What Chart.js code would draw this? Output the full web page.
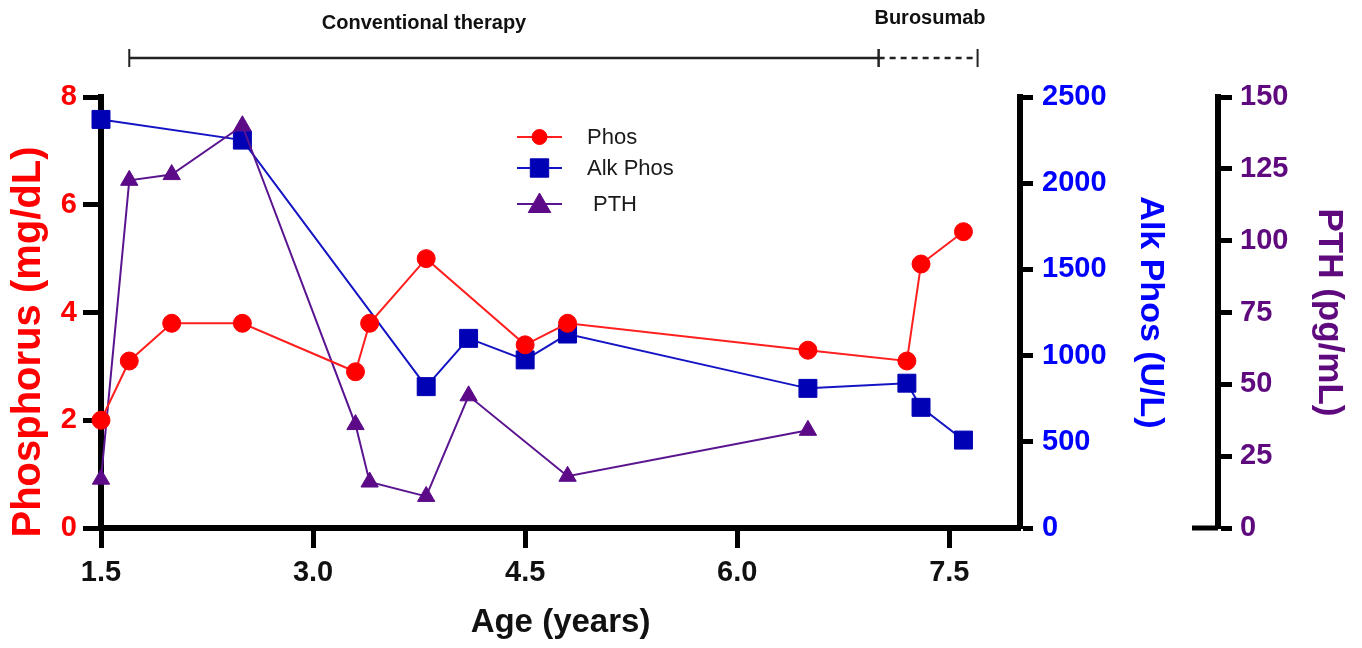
<!DOCTYPE html>
<html>
<head>
<meta charset="utf-8">
<title>Phos / Alk Phos / PTH by age</title>
<script src="https://cdn.jsdelivr.net/npm/chart.js@4.4.1/dist/chart.umd.min.js"></script>
<style>
  html, body { margin: 0; padding: 0; background: #fff; }
  #wrap { width: 1362px; height: 648px; }
</style>
</head>
<body>
<div id="wrap"><canvas id="chart" width="1362" height="648"></canvas></div>
<script>
// values
var phosAge = [1.5, 1.7, 2.0, 2.5, 3.3, 3.4, 3.8, 4.5, 4.8, 6.5, 7.2, 7.3, 7.6];
var phosValues = [2.0, 3.1, 3.8, 3.8, 2.9, 3.8, 5.0, 3.4, 3.8, 3.3, 3.1, 4.9, 5.5];

var alkAge = [1.5, 2.5, 3.8, 4.1, 4.5, 4.8, 6.5, 7.2, 7.3, 7.6];
var alkValues = [2370, 2250, 820, 1100, 975, 1125, 810, 840, 700, 510];

var pthAge = [1.5, 1.7, 2.0, 2.5, 3.3, 3.4, 3.8, 4.1, 4.8, 6.5];
var pthValues = [17, 121, 123, 140, 36, 16, 11, 46, 18, 34];

var ageTicks = [1.5, 3.0, 4.5, 6.0, 7.5];
var phosTicks = [0, 2, 4, 6, 8];
var alkTicks = [0, 500, 1000, 1500, 2000, 2500];
var pthTicks = [0, 25, 50, 75, 100, 125, 150];

// treatment periods shown above the plot
var periodNames = ['Conventional therapy', 'Burosumab'];
var periodStart = [1.7, 7.0];
var periodEnd = [7.0, 7.7];

var FONT = '"Liberation Sans", Arial, Helvetica, sans-serif';
var RED = '#ff0000';
var BLUE = '#0000ff';
var PURPLE = '#5e0a7e';

Chart.defaults.font.family = FONT;

function points(xs, ys) {
    return xs.map(function(x, i) { return {x: x, y: ys[i]}; });
}

function fixedTicks(list) {
    return function(scale) {
        scale.ticks = list.map(function(v) { return {value: v}; });
    };
}

function fixedWidth(w) {
    return function(scale) { scale.width = w; };
}

function plain(v) {
    return String(v);
}

// draws a marker the same way the datasets do
function marker(ctx, style, radius, x, y) {
    if (Chart.helpers && Chart.helpers.drawPoint) {
        Chart.helpers.drawPoint(ctx, {pointStyle: style, radius: radius, rotation: 0, borderWidth: 1}, x, y);
        return;
    }
    ctx.beginPath();
    ctx.arc(x, y, radius, 0, Math.PI * 2);
    ctx.fill();
}

var extras = {
    id: 'extras',
    afterDraw: function(chart) {
        var ctx = chart.ctx;
        var xs = chart.scales.x;
        var pth = chart.scales.y2;

        ctx.save();

        // left axis title (sits a bit below the middle in the original)
        ctx.save();
        ctx.translate(29, 342);
        ctx.rotate(-Math.PI / 2);
        ctx.fillStyle = RED;
        ctx.font = 'bold 40px ' + FONT;
        ctx.textAlign = 'center';
        ctx.textBaseline = 'middle';
        ctx.fillText('Phosphorus (mg/dL)', 0, 0);
        ctx.restore();

        // short base stub on the PTH axis
        var y0 = pth.getPixelForValue(0);
        ctx.strokeStyle = '#000';
        ctx.lineWidth = 5;
        ctx.beginPath();
        ctx.moveTo(pth.left - 26, y0);
        ctx.lineTo(pth.left, y0);
        ctx.stroke();

        // treatment period bars
        var barY = 58;
        ctx.strokeStyle = '#222';
        ctx.fillStyle = '#111';
        ctx.font = 'bold 20px ' + FONT;
        ctx.textAlign = 'center';
        ctx.textBaseline = 'middle';
        var labelX = [424, 930];
        var labelY = [23, 18];
        for (var i = 0; i < periodNames.length; i++) {
            var a = xs.getPixelForValue(periodStart[i]);
            var b = xs.getPixelForValue(periodEnd[i]);
            ctx.lineWidth = 2.5;
            ctx.setLineDash(i === 0 ? [] : [6, 5]);
            ctx.beginPath();
            ctx.moveTo(a, barY);
            ctx.lineTo(b, barY);
            ctx.stroke();
            ctx.setLineDash([]);
            ctx.lineWidth = 2;
            ctx.beginPath();
            ctx.moveTo(a, barY - 9);
            ctx.lineTo(a, barY + 9);
            ctx.moveTo(b, barY - 9);
            ctx.lineTo(b, barY + 9);
            ctx.stroke();
            ctx.fillText(periodNames[i], labelX[i], labelY[i]);
        }

        // legend inside the plot
        var legendRows = [137, 168, 204];
        var legendRadius = [7.5, 13, 13];
        chart.data.datasets.forEach(function(ds, k) {
            var y = legendRows[k];
            ctx.strokeStyle = ds.borderColor;
            ctx.lineWidth = 2;
            ctx.beginPath();
            ctx.moveTo(517, y);
            ctx.lineTo(562, y);
            ctx.stroke();
            ctx.fillStyle = ds.pointBackgroundColor;
            ctx.strokeStyle = ds.pointBackgroundColor;
            ctx.lineWidth = 1;
            marker(ctx, ds.pointStyle, legendRadius[k], 539.5, ds.pointStyle === 'triangle' ? y + 2 : y);
            ctx.fillStyle = '#1a1a1a';
            ctx.font = '22px ' + FONT;
            ctx.textAlign = 'left';
            ctx.textBaseline = 'middle';
            ctx.fillText(ds.label, k === 2 ? 593 : 587, y + 1);
        });

        ctx.restore();
    }
};

function axisGrid(len) {
    return {
        display: true,
        drawOnChartArea: false,
        drawTicks: true,
        tickLength: len,
        tickWidth: 5,
        tickColor: '#000'
    };
}

var border = {display: true, color: '#000', width: 6};

new Chart(document.getElementById('chart').getContext('2d'), {
    type: 'scatter',
    data: {
        datasets: [{
            label: 'Phos',
            data: points(phosAge, phosValues),
            yAxisID: 'y',
            showLine: true,
            borderColor: '#ff1f1f',
            borderWidth: 2,
            pointStyle: 'circle',
            pointRadius: 9,
            pointBackgroundColor: RED,
            pointBorderColor: RED,
            pointBorderWidth: 1,
            clip: false,
            order: 1
        }, {
            label: 'Alk Phos',
            data: points(alkAge, alkValues),
            yAxisID: 'y1',
            showLine: true,
            borderColor: '#1414c4',
            borderWidth: 2,
            pointStyle: 'rect',
            pointRadius: 12.7,
            pointBackgroundColor: '#0000b4',
            pointBorderColor: '#0000b4',
            pointBorderWidth: 1,
            clip: false,
            order: 3
        }, {
            label: 'PTH',
            data: points(pthAge, pthValues),
            yAxisID: 'y2',
            showLine: true,
            borderColor: '#5a1490',
            borderWidth: 2,
            pointStyle: 'triangle',
            pointRadius: 10,
            pointBackgroundColor: '#5c0a88',
            pointBorderColor: '#5c0a88',
            pointBorderWidth: 1,
            clip: false,
            order: 2
        }]
    },
    options: {
        responsive: false,
        animation: false,
        events: [],
        layout: {padding: {top: 97, right: 0, bottom: 0, left: 0}},
        plugins: {
            legend: {display: false},
            tooltip: {enabled: false},
            title: {display: false}
        },
        scales: {
            x: {
                type: 'linear',
                position: 'bottom',
                min: 1.5,
                max: 8,
                afterBuildTicks: fixedTicks(ageTicks),
                afterFit: function(scale) { scale.height = 120; },
                border: border,
                grid: axisGrid(20),
                ticks: {
                    color: '#111',
                    padding: 8,
                    font: {size: 29, weight: 'bold'},
                    callback: function(v) { return Number(v).toFixed(1); }
                },
                title: {
                    display: true,
                    text: 'Age (years)',
                    color: '#111',
                    font: {size: 33, weight: 'bold'},
                    padding: {top: 0, bottom: 5}
                }
            },
            y: {
                type: 'linear',
                position: 'left',
                min: 0,
                max: 8,
                afterBuildTicks: fixedTicks(phosTicks),
                afterFit: fixedWidth(101),
                border: border,
                grid: axisGrid(18),
                ticks: {color: RED, padding: 6, font: {size: 29, weight: 'bold'}, callback: plain}
            },
            y1: {
                type: 'linear',
                position: 'right',
                min: 0,
                max: 2500,
                afterBuildTicks: fixedTicks(alkTicks),
                afterFit: fixedWidth(198),
                border: border,
                grid: axisGrid(13),
                ticks: {color: BLUE, padding: 9, font: {size: 29, weight: 'bold'}, callback: plain},
                title: {
                    display: true,
                    text: 'Alk Phos (U/L)',
                    color: BLUE,
                    font: {size: 34, weight: 'bold'},
                    padding: {top: 47, bottom: 0}
                }
            },
            y2: {
                type: 'linear',
                position: 'right',
                min: 0,
                max: 150,
                afterBuildTicks: fixedTicks(pthTicks),
                afterFit: fixedWidth(144),
                border: border,
                grid: axisGrid(14),
                ticks: {color: PURPLE, padding: 8, font: {size: 29, weight: 'bold'}, callback: plain},
                title: {
                    display: true,
                    text: 'PTH (pg/mL)',
                    color: PURPLE,
                    font: {size: 35, weight: 'bold'},
                    padding: {top: 12, bottom: 0}
                }
            }
        }
    },
    plugins: [extras]
});
</script>
</body>
</html>
